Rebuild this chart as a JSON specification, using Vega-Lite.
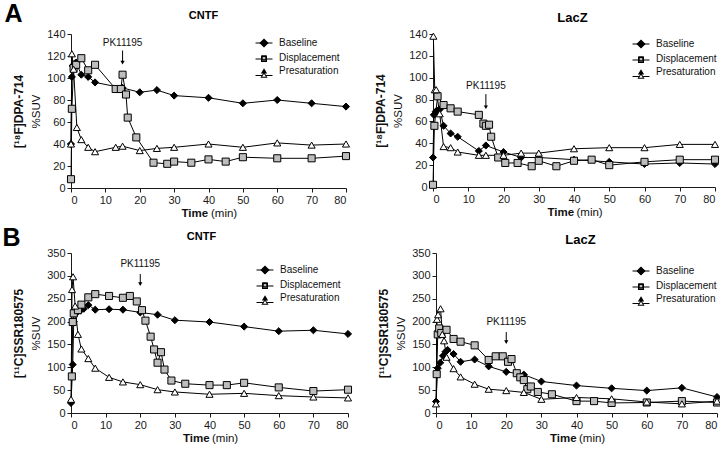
{
"$schema": "https://vega.github.io/schema/vega-lite/v6.json",
"background": "white",
"padding": {"left": 2, "top": 1, "right": 2, "bottom": 2},
"config": {
 "view": {"stroke": null},
 "font": "Liberation Sans",
 "axis": {"grid": false, "labelFont": "Liberation Sans", "labelFontSize": 11, "labelColor": "#1a1a1a", "domainColor": "#1a1a1a", "tickColor": "#1a1a1a", "tickSize": 4, "labelPadding": 2, "titleFont": "Liberation Sans", "titleFontSize": 11.5, "titleColor": "#111111", "titleFontWeight": "normal"},
 "legend": {"labelFont": "Liberation Sans", "labelFontSize": 10, "labelColor": "#111111", "symbolSize": 50, "labelOffset": 10, "rowPadding": 2, "padding": 0},
 "title": {"font": "Liberation Sans", "color": "black"}
},
"datasets": {
 "ac": [
  {"s":"Baseline","t":0,"v":40},{"s":"Baseline","t":0.25,"v":101},{"s":"Baseline","t":0.5,"v":111},{"s":"Baseline","t":1,"v":113},{"s":"Baseline","t":1.5,"v":114},{"s":"Baseline","t":3,"v":103},{"s":"Baseline","t":5,"v":101},{"s":"Baseline","t":7,"v":96},{"s":"Baseline","t":15,"v":91},{"s":"Baseline","t":20,"v":87},{"s":"Baseline","t":25,"v":89},{"s":"Baseline","t":30,"v":84},{"s":"Baseline","t":40,"v":82},{"s":"Baseline","t":50,"v":77},{"s":"Baseline","t":60,"v":80},{"s":"Baseline","t":70,"v":77},{"s":"Baseline","t":80,"v":74},
  {"s":"Displacement","t":0,"v":8},{"s":"Displacement","t":0.25,"v":72},{"s":"Displacement","t":0.75,"v":109},{"s":"Displacement","t":1.5,"v":112},{"s":"Displacement","t":3,"v":118},{"s":"Displacement","t":5,"v":107},{"s":"Displacement","t":7,"v":112},{"s":"Displacement","t":13,"v":90},{"s":"Displacement","t":14.5,"v":90},{"s":"Displacement","t":15,"v":103},{"s":"Displacement","t":16,"v":85},{"s":"Displacement","t":16.5,"v":64},{"s":"Displacement","t":19,"v":46},{"s":"Displacement","t":24,"v":23},{"s":"Displacement","t":28,"v":22},{"s":"Displacement","t":30,"v":24},{"s":"Displacement","t":35,"v":23},{"s":"Displacement","t":40,"v":26},{"s":"Displacement","t":45,"v":24},{"s":"Displacement","t":50,"v":28},{"s":"Displacement","t":60,"v":27},{"s":"Displacement","t":70,"v":27},{"s":"Displacement","t":80,"v":29},
  {"s":"Presaturation","t":0,"v":40},{"s":"Presaturation","t":0.25,"v":122},{"s":"Presaturation","t":0.75,"v":108},{"s":"Presaturation","t":1.7,"v":55},{"s":"Presaturation","t":3,"v":44},{"s":"Presaturation","t":5,"v":37},{"s":"Presaturation","t":7,"v":33},{"s":"Presaturation","t":13,"v":37},{"s":"Presaturation","t":15,"v":38},{"s":"Presaturation","t":20,"v":34},{"s":"Presaturation","t":25,"v":36},{"s":"Presaturation","t":30,"v":37},{"s":"Presaturation","t":40,"v":40},{"s":"Presaturation","t":50,"v":37},{"s":"Presaturation","t":60,"v":41},{"s":"Presaturation","t":70,"v":39},{"s":"Presaturation","t":80,"v":40}
 ],
 "al": [
  {"s":"Baseline","t":0,"v":27},{"s":"Baseline","t":0.25,"v":66},{"s":"Baseline","t":0.75,"v":69},{"s":"Baseline","t":1.3,"v":70},{"s":"Baseline","t":1.9,"v":71},{"s":"Baseline","t":3,"v":56},{"s":"Baseline","t":5,"v":49},{"s":"Baseline","t":7,"v":46},{"s":"Baseline","t":13,"v":33},{"s":"Baseline","t":15,"v":38},{"s":"Baseline","t":20,"v":32},{"s":"Baseline","t":25,"v":27},{"s":"Baseline","t":30,"v":27},{"s":"Baseline","t":40,"v":25},{"s":"Baseline","t":50,"v":23},{"s":"Baseline","t":60,"v":21},{"s":"Baseline","t":70,"v":22},{"s":"Baseline","t":80,"v":21},
  {"s":"Displacement","t":0,"v":2},{"s":"Displacement","t":0.4,"v":56},{"s":"Displacement","t":1.3,"v":83},{"s":"Displacement","t":3,"v":75},{"s":"Displacement","t":5,"v":72},{"s":"Displacement","t":7,"v":69},{"s":"Displacement","t":13,"v":66},{"s":"Displacement","t":14.3,"v":58},{"s":"Displacement","t":15,"v":56},{"s":"Displacement","t":15.9,"v":57},{"s":"Displacement","t":16.5,"v":46},{"s":"Displacement","t":18.5,"v":27},{"s":"Displacement","t":20.5,"v":22},{"s":"Displacement","t":24,"v":22},{"s":"Displacement","t":28,"v":19},{"s":"Displacement","t":30,"v":24},{"s":"Displacement","t":35,"v":19},{"s":"Displacement","t":40,"v":24},{"s":"Displacement","t":45,"v":25},{"s":"Displacement","t":50,"v":20},{"s":"Displacement","t":60,"v":23},{"s":"Displacement","t":70,"v":25},{"s":"Displacement","t":80,"v":25},
  {"s":"Presaturation","t":0.1,"v":138},{"s":"Presaturation","t":0.5,"v":89},{"s":"Presaturation","t":0.9,"v":89},{"s":"Presaturation","t":1.9,"v":67},{"s":"Presaturation","t":3,"v":37},{"s":"Presaturation","t":5,"v":36},{"s":"Presaturation","t":7,"v":32},{"s":"Presaturation","t":13,"v":29},{"s":"Presaturation","t":15,"v":29},{"s":"Presaturation","t":20,"v":29},{"s":"Presaturation","t":25,"v":31},{"s":"Presaturation","t":30,"v":31},{"s":"Presaturation","t":40,"v":35},{"s":"Presaturation","t":50,"v":36},{"s":"Presaturation","t":60,"v":36},{"s":"Presaturation","t":70,"v":39},{"s":"Presaturation","t":80,"v":39}
 ],
 "bc": [
  {"s":"Baseline","t":0,"v":22},{"s":"Baseline","t":0.5,"v":106},{"s":"Baseline","t":0.8,"v":200},{"s":"Baseline","t":1.7,"v":220},{"s":"Baseline","t":2.7,"v":224},{"s":"Baseline","t":3.7,"v":228},{"s":"Baseline","t":5,"v":236},{"s":"Baseline","t":7,"v":226},{"s":"Baseline","t":11,"v":227},{"s":"Baseline","t":15,"v":226},{"s":"Baseline","t":20,"v":220},{"s":"Baseline","t":25,"v":215},{"s":"Baseline","t":30,"v":203},{"s":"Baseline","t":40,"v":199},{"s":"Baseline","t":50,"v":189},{"s":"Baseline","t":60,"v":179},{"s":"Baseline","t":70,"v":181},{"s":"Baseline","t":80,"v":173},
  {"s":"Displacement","t":0.25,"v":80},{"s":"Displacement","t":0.5,"v":199},{"s":"Displacement","t":0.8,"v":218},{"s":"Displacement","t":2,"v":225},{"s":"Displacement","t":3,"v":237},{"s":"Displacement","t":5,"v":253},{"s":"Displacement","t":7,"v":260},{"s":"Displacement","t":11,"v":256},{"s":"Displacement","t":15,"v":252},{"s":"Displacement","t":17,"v":256},{"s":"Displacement","t":19,"v":244},{"s":"Displacement","t":20.5,"v":225},{"s":"Displacement","t":21.5,"v":202},{"s":"Displacement","t":23,"v":167},{"s":"Displacement","t":24,"v":139},{"s":"Displacement","t":25,"v":110},{"s":"Displacement","t":26,"v":133},{"s":"Displacement","t":27,"v":95},{"s":"Displacement","t":29,"v":71},{"s":"Displacement","t":33,"v":64},{"s":"Displacement","t":40,"v":61},{"s":"Displacement","t":45,"v":61},{"s":"Displacement","t":50,"v":66},{"s":"Displacement","t":60,"v":56},{"s":"Displacement","t":70,"v":48},{"s":"Displacement","t":80,"v":51},
  {"s":"Presaturation","t":0,"v":30},{"s":"Presaturation","t":0.3,"v":270},{"s":"Presaturation","t":0.6,"v":298},{"s":"Presaturation","t":1.2,"v":234},{"s":"Presaturation","t":2,"v":172},{"s":"Presaturation","t":3,"v":140},{"s":"Presaturation","t":5,"v":119},{"s":"Presaturation","t":7,"v":98},{"s":"Presaturation","t":11,"v":78},{"s":"Presaturation","t":15,"v":68},{"s":"Presaturation","t":20,"v":62},{"s":"Presaturation","t":25,"v":51},{"s":"Presaturation","t":30,"v":46},{"s":"Presaturation","t":40,"v":41},{"s":"Presaturation","t":50,"v":43},{"s":"Presaturation","t":60,"v":38},{"s":"Presaturation","t":70,"v":35},{"s":"Presaturation","t":80,"v":33}
 ],
 "bl": [
  {"s":"Baseline","t":0,"v":25},{"s":"Baseline","t":0.5,"v":98},{"s":"Baseline","t":1.2,"v":110},{"s":"Baseline","t":2,"v":125},{"s":"Baseline","t":2.7,"v":134},{"s":"Baseline","t":3.3,"v":138},{"s":"Baseline","t":5,"v":129},{"s":"Baseline","t":7,"v":112},{"s":"Baseline","t":11,"v":117},{"s":"Baseline","t":15,"v":102},{"s":"Baseline","t":20,"v":90},{"s":"Baseline","t":25,"v":84},{"s":"Baseline","t":30,"v":69},{"s":"Baseline","t":40,"v":60},{"s":"Baseline","t":50,"v":54},{"s":"Baseline","t":60,"v":49},{"s":"Baseline","t":70,"v":55},{"s":"Baseline","t":80,"v":35},
  {"s":"Displacement","t":0.2,"v":85},{"s":"Displacement","t":0.5,"v":172},{"s":"Displacement","t":0.9,"v":185},{"s":"Displacement","t":1.5,"v":175},{"s":"Displacement","t":3,"v":182},{"s":"Displacement","t":5,"v":162},{"s":"Displacement","t":7,"v":156},{"s":"Displacement","t":11,"v":148},{"s":"Displacement","t":15,"v":116},{"s":"Displacement","t":17,"v":124},{"s":"Displacement","t":19,"v":124},{"s":"Displacement","t":20.5,"v":112},{"s":"Displacement","t":21.5,"v":118},{"s":"Displacement","t":23,"v":87},{"s":"Displacement","t":24,"v":78},{"s":"Displacement","t":25,"v":72},{"s":"Displacement","t":26,"v":52},{"s":"Displacement","t":27,"v":58},{"s":"Displacement","t":29,"v":46},{"s":"Displacement","t":33,"v":41},{"s":"Displacement","t":40,"v":26},{"s":"Displacement","t":45,"v":26},{"s":"Displacement","t":50,"v":22},{"s":"Displacement","t":60,"v":23},{"s":"Displacement","t":70,"v":26},{"s":"Displacement","t":80,"v":23},
  {"s":"Presaturation","t":0,"v":20},{"s":"Presaturation","t":0.3,"v":205},{"s":"Presaturation","t":0.6,"v":215},{"s":"Presaturation","t":1.3,"v":228},{"s":"Presaturation","t":1.8,"v":172},{"s":"Presaturation","t":2.3,"v":158},{"s":"Presaturation","t":3,"v":122},{"s":"Presaturation","t":5,"v":97},{"s":"Presaturation","t":7,"v":79},{"s":"Presaturation","t":11,"v":63},{"s":"Presaturation","t":15,"v":52},{"s":"Presaturation","t":20,"v":49},{"s":"Presaturation","t":25,"v":45},{"s":"Presaturation","t":30,"v":30},{"s":"Presaturation","t":40,"v":34},{"s":"Presaturation","t":50,"v":31},{"s":"Presaturation","t":60,"v":24},{"s":"Presaturation","t":70,"v":20},{"s":"Presaturation","t":80,"v":26}
 ]
},
"spacing": 6,
"resolve": {"scale": {"x": "independent", "y": "independent", "shape": "independent", "fill": "independent"}},
"vconcat": [
 {
  "spacing": 22,
  "resolve": {"scale": {"x": "independent", "y": "independent", "shape": "independent", "fill": "independent"}},
  "hconcat": [
   {
    "width": 275, "height": 154,
    "resolve": {"axis": {"x": "independent", "y": "independent"}, "scale": {"shape": "independent", "fill": "independent"}},
    "layer": [
     {"data": {"name": "ac"}, "mark": {"type": "line", "color": "black", "strokeWidth": 1},
      "encoding": {
       "x": {"field": "t", "type": "quantitative", "scale": {"domain": [0, 80], "nice": false}, "axis": {"orient": "bottom", "values": [0,10,20,30,40,50,60,70,80], "title": "(min)", "titleAlign": "left", "titleX": 139.5, "titleY": 28, "titleBaseline": "alphabetic"}},
       "y": {"field": "v", "type": "quantitative", "scale": {"domain": [0, 140], "nice": false}, "axis": {"orient": "left", "values": [0,20,40,60,80,100,120,140], "title": "%SUV", "titlePadding": 5}},
       "detail": {"field": "s", "type": "nominal"}}},
     {"data": {"name": "ac"}, "mark": {"type": "point", "filled": false, "stroke": "black", "strokeWidth": 1, "size": 50, "opacity": 1},
      "encoding": {
       "x": {"field": "t", "type": "quantitative", "axis": {"orient": "bottom", "labels": false, "ticks": false, "domain": false, "title": "Time", "titleFontWeight": "bold", "titleAlign": "left", "titleX": 110, "titleY": 28, "titleBaseline": "alphabetic"}},
       "y": {"field": "v", "type": "quantitative", "axis": {"orient": "left", "labels": false, "ticks": false, "domain": false, "title": "[¹⁸F]DPA-714", "titleFontWeight": "bold", "titleFontSize": 12, "offset": 46, "titlePadding": 0}},
       "shape": {"field": "s", "type": "nominal", "scale": {"domain": ["Baseline", "Displacement", "Presaturation"], "range": ["diamond", "square", "triangle-up"]}, "legend": null},
       "fill": {"field": "s", "type": "nominal", "scale": {"domain": ["Baseline", "Displacement", "Presaturation"], "range": ["black", "#bdbdbd", "white"]}, "legend": null}}},
     {"data": {"values": [{"t": 15, "y1": 125, "y2": 114}]}, "mark": {"type": "rule", "color": "black", "strokeWidth": 1},
      "encoding": {"x": {"field": "t", "type": "quantitative", "axis": {"orient": "top", "labels": false, "ticks": false, "domain": false, "title": "CNTF", "titleFontSize": 11, "titleFontWeight": "bold", "titleColor": "black", "titleAlign": "center", "titleBaseline": "alphabetic", "titleX": 132, "titleY": -16}}, "y": {"field": "y1", "type": "quantitative", "axis": {"orient": "left", "labels": false, "ticks": false, "domain": false, "title": "A", "titleAngle": 0, "titleFontSize": 25, "titleFontWeight": "bold", "titleColor": "black", "titleAlign": "left", "titleBaseline": "alphabetic", "titleX": -67, "titleY": -13}}, "y2": {"field": "y2"}}},
     {"data": {"values": [{"t": 15, "y2": 114}]}, "mark": {"type": "point", "shape": "triangle-down", "filled": true, "color": "black", "size": 18, "opacity": 1},
      "encoding": {"x": {"field": "t", "type": "quantitative", "axis": null}, "y": {"field": "y2", "type": "quantitative", "axis": null}}},
     {"data": {"values": [{"t": 15, "ty": 132, "label": "PK11195"}]}, "mark": {"type": "text", "fontSize": 10, "font": "Liberation Sans", "baseline": "middle", "color": "#111111"},
      "encoding": {"x": {"field": "t", "type": "quantitative", "axis": null}, "y": {"field": "ty", "type": "quantitative", "axis": null}, "text": {"field": "label"}}},
     {"data": {"values": []}, "mark": {"type": "point", "filled": false, "stroke": "black", "strokeWidth": 1, "size": 50, "opacity": 1},
      "encoding": {
       "shape": {"field": "s", "type": "nominal", "scale": {"domain": ["Baseline", "Displacement", "Presaturation"], "range": ["M0,-1L1,0L0,1L-1,0Z", "M-0.57,-0.57H0.57V0.57H-0.57Z", "M0,-0.385L0.52,0.52H-0.52Z"]}, "legend": {"title": null, "orient": "none", "legendX": 188, "legendY": 4}},
       "fill": {"field": "s", "type": "nominal", "scale": {"domain": ["Baseline", "Displacement", "Presaturation"], "range": ["black", "#bdbdbd", "white"]}, "legend": {"title": null, "orient": "none", "legendX": 188, "legendY": 4}}}},
     {"data": {"values": []}, "mark": {"type": "point", "filled": true, "color": "black", "size": 50, "opacity": 1},
      "encoding": {
       "shape": {"field": "s", "type": "nominal", "scale": {"domain": ["Baseline", "Displacement", "Presaturation"], "range": ["M0,-1L1,0L0,1L-1,0Z M-2.4,-0.14H-0.9V0.14H-2.4Z M0.9,-0.14H2.4V0.14H0.9Z", "M-0.85,-0.85H0.85V0.85H-0.85Z M-0.57,-0.57V0.57H0.57V-0.57Z M-2.4,-0.14H-0.85V0.14H-2.4Z M0.85,-0.14H2.4V0.14H0.85Z", "M0,-0.95L1,0.8H-1Z M0,-0.385L-0.52,0.52H0.52Z M-2.4,0.01H-0.63V0.29H-2.4Z M0.63,0.01H2.4V0.29H0.63Z"]}, "legend": {"title": null, "orient": "none", "legendX": 188, "legendY": 4, "labelOpacity": 0}}}}
    ]
   },
   {
    "width": 282, "height": 153,
    "resolve": {"axis": {"x": "independent", "y": "independent"}, "scale": {"shape": "independent", "fill": "independent"}},
    "layer": [
     {"data": {"name": "al"}, "mark": {"type": "line", "color": "black", "strokeWidth": 1},
      "encoding": {
       "x": {"field": "t", "type": "quantitative", "scale": {"domain": [0, 80], "nice": false}, "axis": {"orient": "bottom", "values": [0,10,20,30,40,50,60,70,80], "title": "(min)", "titleAlign": "left", "titleX": 143, "titleY": 28, "titleBaseline": "alphabetic"}},
       "y": {"field": "v", "type": "quantitative", "scale": {"domain": [0, 140], "nice": false}, "axis": {"orient": "left", "values": [0,20,40,60,80,100,120,140], "title": "%SUV", "titlePadding": 5}},
       "detail": {"field": "s", "type": "nominal"}}},
     {"data": {"name": "al"}, "mark": {"type": "point", "filled": false, "stroke": "black", "strokeWidth": 1, "size": 50, "opacity": 1},
      "encoding": {
       "x": {"field": "t", "type": "quantitative", "axis": {"orient": "bottom", "labels": false, "ticks": false, "domain": false, "title": "Time", "titleFontWeight": "bold", "titleAlign": "left", "titleX": 114, "titleY": 28, "titleBaseline": "alphabetic"}},
       "y": {"field": "v", "type": "quantitative", "axis": {"orient": "left", "labels": false, "ticks": false, "domain": false, "title": "[¹⁸F]DPA-714", "titleFontWeight": "bold", "titleFontSize": 12, "offset": 46, "titlePadding": 0}},
       "shape": {"field": "s", "type": "nominal", "scale": {"domain": ["Baseline", "Displacement", "Presaturation"], "range": ["diamond", "square", "triangle-up"]}, "legend": null},
       "fill": {"field": "s", "type": "nominal", "scale": {"domain": ["Baseline", "Displacement", "Presaturation"], "range": ["black", "#bdbdbd", "white"]}, "legend": null}}},
     {"data": {"values": [{"t": 15, "y1": 85, "y2": 73}]}, "mark": {"type": "rule", "color": "black", "strokeWidth": 1},
      "encoding": {"x": {"field": "t", "type": "quantitative", "axis": {"orient": "top", "labels": false, "ticks": false, "domain": false, "title": "LacZ", "titleFontSize": 13, "titleFontWeight": "bold", "titleColor": "black", "titleAlign": "center", "titleBaseline": "alphabetic", "titleX": 139, "titleY": -13}}, "y": {"field": "y1", "type": "quantitative", "axis": null}, "y2": {"field": "y2"}}},
     {"data": {"values": [{"t": 15, "y2": 73}]}, "mark": {"type": "point", "shape": "triangle-down", "filled": true, "color": "black", "size": 18, "opacity": 1},
      "encoding": {"x": {"field": "t", "type": "quantitative", "axis": null}, "y": {"field": "y2", "type": "quantitative", "axis": null}}},
     {"data": {"values": [{"t": 15, "ty": 92, "label": "PK11195"}]}, "mark": {"type": "text", "fontSize": 10, "font": "Liberation Sans", "baseline": "middle", "color": "#111111"},
      "encoding": {"x": {"field": "t", "type": "quantitative", "axis": null}, "y": {"field": "ty", "type": "quantitative", "axis": null}, "text": {"field": "label"}}},
     {"data": {"values": []}, "mark": {"type": "point", "filled": false, "stroke": "black", "strokeWidth": 1, "size": 50, "opacity": 1},
      "encoding": {
       "shape": {"field": "s", "type": "nominal", "scale": {"domain": ["Baseline", "Displacement", "Presaturation"], "range": ["M0,-1L1,0L0,1L-1,0Z", "M-0.57,-0.57H0.57V0.57H-0.57Z", "M0,-0.385L0.52,0.52H-0.52Z"]}, "legend": {"title": null, "orient": "none", "legendX": 203, "legendY": 5}},
       "fill": {"field": "s", "type": "nominal", "scale": {"domain": ["Baseline", "Displacement", "Presaturation"], "range": ["black", "#bdbdbd", "white"]}, "legend": {"title": null, "orient": "none", "legendX": 203, "legendY": 5}}}},
     {"data": {"values": []}, "mark": {"type": "point", "filled": true, "color": "black", "size": 50, "opacity": 1},
      "encoding": {
       "shape": {"field": "s", "type": "nominal", "scale": {"domain": ["Baseline", "Displacement", "Presaturation"], "range": ["M0,-1L1,0L0,1L-1,0Z M-2.4,-0.14H-0.9V0.14H-2.4Z M0.9,-0.14H2.4V0.14H0.9Z", "M-0.85,-0.85H0.85V0.85H-0.85Z M-0.57,-0.57V0.57H0.57V-0.57Z M-2.4,-0.14H-0.85V0.14H-2.4Z M0.85,-0.14H2.4V0.14H0.85Z", "M0,-0.95L1,0.8H-1Z M0,-0.385L-0.52,0.52H0.52Z M-2.4,0.01H-0.63V0.29H-2.4Z M0.63,0.01H2.4V0.29H0.63Z"]}, "legend": {"title": null, "orient": "none", "legendX": 203, "legendY": 5, "labelOpacity": 0}}}}
    ]
   }
  ]
 },
 {
  "spacing": 23,
  "resolve": {"scale": {"x": "independent", "y": "independent", "shape": "independent", "fill": "independent"}},
  "hconcat": [
   {
    "width": 277, "height": 160,
    "resolve": {"axis": {"x": "independent", "y": "independent"}, "scale": {"shape": "independent", "fill": "independent"}},
    "layer": [
     {"data": {"name": "bc"}, "mark": {"type": "line", "color": "black", "strokeWidth": 1},
      "encoding": {
       "x": {"field": "t", "type": "quantitative", "scale": {"domain": [0, 80], "nice": false}, "axis": {"orient": "bottom", "values": [0,10,20,30,40,50,60,70,80], "title": "(min)", "titleAlign": "left", "titleX": 140.5, "titleY": 28, "titleBaseline": "alphabetic"}},
       "y": {"field": "v", "type": "quantitative", "scale": {"domain": [0, 350], "nice": false}, "axis": {"orient": "left", "values": [0,50,100,150,200,250,300,350], "title": "%SUV", "titlePadding": 5}},
       "detail": {"field": "s", "type": "nominal"}}},
     {"data": {"name": "bc"}, "mark": {"type": "point", "filled": false, "stroke": "black", "strokeWidth": 1, "size": 50, "opacity": 1},
      "encoding": {
       "x": {"field": "t", "type": "quantitative", "axis": {"orient": "bottom", "labels": false, "ticks": false, "domain": false, "title": "Time", "titleFontWeight": "bold", "titleAlign": "left", "titleX": 111.5, "titleY": 28, "titleBaseline": "alphabetic"}},
       "y": {"field": "v", "type": "quantitative", "axis": {"orient": "left", "labels": false, "ticks": false, "domain": false, "title": "[¹¹C]SSR180575", "titleFontWeight": "bold", "titleFontSize": 12, "offset": 46, "titlePadding": 0}},
       "shape": {"field": "s", "type": "nominal", "scale": {"domain": ["Baseline", "Displacement", "Presaturation"], "range": ["diamond", "square", "triangle-up"]}, "legend": null},
       "fill": {"field": "s", "type": "nominal", "scale": {"domain": ["Baseline", "Displacement", "Presaturation"], "range": ["black", "#bdbdbd", "white"]}, "legend": null}}},
     {"data": {"values": [{"t": 20, "y1": 304, "y2": 282}]}, "mark": {"type": "rule", "color": "black", "strokeWidth": 1},
      "encoding": {"x": {"field": "t", "type": "quantitative", "axis": {"orient": "top", "labels": false, "ticks": false, "domain": false, "title": "CNTF", "titleFontSize": 11, "titleFontWeight": "bold", "titleColor": "black", "titleAlign": "center", "titleBaseline": "alphabetic", "titleX": 130, "titleY": -14}}, "y": {"field": "y1", "type": "quantitative", "axis": {"orient": "left", "labels": false, "ticks": false, "domain": false, "title": "B", "titleAngle": 0, "titleFontSize": 25, "titleFontWeight": "bold", "titleColor": "black", "titleAlign": "left", "titleBaseline": "alphabetic", "titleX": -69, "titleY": -8}}, "y2": {"field": "y2"}}},
     {"data": {"values": [{"t": 20, "y2": 282}]}, "mark": {"type": "point", "shape": "triangle-down", "filled": true, "color": "black", "size": 18, "opacity": 1},
      "encoding": {"x": {"field": "t", "type": "quantitative", "axis": null}, "y": {"field": "y2", "type": "quantitative", "axis": null}}},
     {"data": {"values": [{"t": 20, "ty": 326, "label": "PK11195"}]}, "mark": {"type": "text", "fontSize": 10, "font": "Liberation Sans", "baseline": "middle", "color": "#111111"},
      "encoding": {"x": {"field": "t", "type": "quantitative", "axis": null}, "y": {"field": "ty", "type": "quantitative", "axis": null}, "text": {"field": "label"}}},
     {"data": {"values": []}, "mark": {"type": "point", "filled": false, "stroke": "black", "strokeWidth": 1, "size": 50, "opacity": 1},
      "encoding": {
       "shape": {"field": "s", "type": "nominal", "scale": {"domain": ["Baseline", "Displacement", "Presaturation"], "range": ["M0,-1L1,0L0,1L-1,0Z", "M-0.57,-0.57H0.57V0.57H-0.57Z", "M0,-0.385L0.52,0.52H-0.52Z"]}, "legend": {"title": null, "orient": "none", "legendX": 189, "legendY": 12}},
       "fill": {"field": "s", "type": "nominal", "scale": {"domain": ["Baseline", "Displacement", "Presaturation"], "range": ["black", "#bdbdbd", "white"]}, "legend": {"title": null, "orient": "none", "legendX": 189, "legendY": 12}}}},
     {"data": {"values": []}, "mark": {"type": "point", "filled": true, "color": "black", "size": 50, "opacity": 1},
      "encoding": {
       "shape": {"field": "s", "type": "nominal", "scale": {"domain": ["Baseline", "Displacement", "Presaturation"], "range": ["M0,-1L1,0L0,1L-1,0Z M-2.4,-0.14H-0.9V0.14H-2.4Z M0.9,-0.14H2.4V0.14H0.9Z", "M-0.85,-0.85H0.85V0.85H-0.85Z M-0.57,-0.57V0.57H0.57V-0.57Z M-2.4,-0.14H-0.85V0.14H-2.4Z M0.85,-0.14H2.4V0.14H0.85Z", "M0,-0.95L1,0.8H-1Z M0,-0.385L-0.52,0.52H0.52Z M-2.4,0.01H-0.63V0.29H-2.4Z M0.63,0.01H2.4V0.29H0.63Z"]}, "legend": {"title": null, "orient": "none", "legendX": 189, "legendY": 12, "labelOpacity": 0}}}}
    ]
   },
   {
    "width": 281, "height": 160,
    "resolve": {"axis": {"x": "independent", "y": "independent"}, "scale": {"shape": "independent", "fill": "independent"}},
    "layer": [
     {"data": {"name": "bl"}, "mark": {"type": "line", "color": "black", "strokeWidth": 1},
      "encoding": {
       "x": {"field": "t", "type": "quantitative", "scale": {"domain": [0, 80], "nice": false}, "axis": {"orient": "bottom", "values": [0,10,20,30,40,50,60,70,80], "title": "(min)", "titleAlign": "left", "titleX": 142.5, "titleY": 28, "titleBaseline": "alphabetic"}},
       "y": {"field": "v", "type": "quantitative", "scale": {"domain": [0, 350], "nice": false}, "axis": {"orient": "left", "values": [0,50,100,150,200,250,300,350], "title": "%SUV", "titlePadding": 5}},
       "detail": {"field": "s", "type": "nominal"}}},
     {"data": {"name": "bl"}, "mark": {"type": "point", "filled": false, "stroke": "black", "strokeWidth": 1, "size": 50, "opacity": 1},
      "encoding": {
       "x": {"field": "t", "type": "quantitative", "axis": {"orient": "bottom", "labels": false, "ticks": false, "domain": false, "title": "Time", "titleFontWeight": "bold", "titleAlign": "left", "titleX": 113.5, "titleY": 28, "titleBaseline": "alphabetic"}},
       "y": {"field": "v", "type": "quantitative", "axis": {"orient": "left", "labels": false, "ticks": false, "domain": false, "title": "[¹¹C]SSR180575", "titleFontWeight": "bold", "titleFontSize": 12, "offset": 46, "titlePadding": 0}},
       "shape": {"field": "s", "type": "nominal", "scale": {"domain": ["Baseline", "Displacement", "Presaturation"], "range": ["diamond", "square", "triangle-up"]}, "legend": null},
       "fill": {"field": "s", "type": "nominal", "scale": {"domain": ["Baseline", "Displacement", "Presaturation"], "range": ["black", "#bdbdbd", "white"]}, "legend": null}}},
     {"data": {"values": [{"t": 20, "y1": 177, "y2": 155}]}, "mark": {"type": "rule", "color": "black", "strokeWidth": 1},
      "encoding": {"x": {"field": "t", "type": "quantitative", "axis": {"orient": "top", "labels": false, "ticks": false, "domain": false, "title": "LacZ", "titleFontSize": 13, "titleFontWeight": "bold", "titleColor": "black", "titleAlign": "center", "titleBaseline": "alphabetic", "titleX": 144, "titleY": -10}}, "y": {"field": "y1", "type": "quantitative", "axis": null}, "y2": {"field": "y2"}}},
     {"data": {"values": [{"t": 20, "y2": 155}]}, "mark": {"type": "point", "shape": "triangle-down", "filled": true, "color": "black", "size": 18, "opacity": 1},
      "encoding": {"x": {"field": "t", "type": "quantitative", "axis": null}, "y": {"field": "y2", "type": "quantitative", "axis": null}}},
     {"data": {"values": [{"t": 20, "ty": 200, "label": "PK11195"}]}, "mark": {"type": "text", "fontSize": 10, "font": "Liberation Sans", "baseline": "middle", "color": "#111111"},
      "encoding": {"x": {"field": "t", "type": "quantitative", "axis": null}, "y": {"field": "ty", "type": "quantitative", "axis": null}, "text": {"field": "label"}}},
     {"data": {"values": []}, "mark": {"type": "point", "filled": false, "stroke": "black", "strokeWidth": 1, "size": 50, "opacity": 1},
      "encoding": {
       "shape": {"field": "s", "type": "nominal", "scale": {"domain": ["Baseline", "Displacement", "Presaturation"], "range": ["M0,-1L1,0L0,1L-1,0Z", "M-0.57,-0.57H0.57V0.57H-0.57Z", "M0,-0.385L0.52,0.52H-0.52Z"]}, "legend": {"title": null, "orient": "none", "legendX": 200, "legendY": 13}},
       "fill": {"field": "s", "type": "nominal", "scale": {"domain": ["Baseline", "Displacement", "Presaturation"], "range": ["black", "#bdbdbd", "white"]}, "legend": {"title": null, "orient": "none", "legendX": 200, "legendY": 13}}}},
     {"data": {"values": []}, "mark": {"type": "point", "filled": true, "color": "black", "size": 50, "opacity": 1},
      "encoding": {
       "shape": {"field": "s", "type": "nominal", "scale": {"domain": ["Baseline", "Displacement", "Presaturation"], "range": ["M0,-1L1,0L0,1L-1,0Z M-2.4,-0.14H-0.9V0.14H-2.4Z M0.9,-0.14H2.4V0.14H0.9Z", "M-0.85,-0.85H0.85V0.85H-0.85Z M-0.57,-0.57V0.57H0.57V-0.57Z M-2.4,-0.14H-0.85V0.14H-2.4Z M0.85,-0.14H2.4V0.14H0.85Z", "M0,-0.95L1,0.8H-1Z M0,-0.385L-0.52,0.52H0.52Z M-2.4,0.01H-0.63V0.29H-2.4Z M0.63,0.01H2.4V0.29H0.63Z"]}, "legend": {"title": null, "orient": "none", "legendX": 200, "legendY": 13, "labelOpacity": 0}}}}
    ]
   }
  ]
 }
]
}
